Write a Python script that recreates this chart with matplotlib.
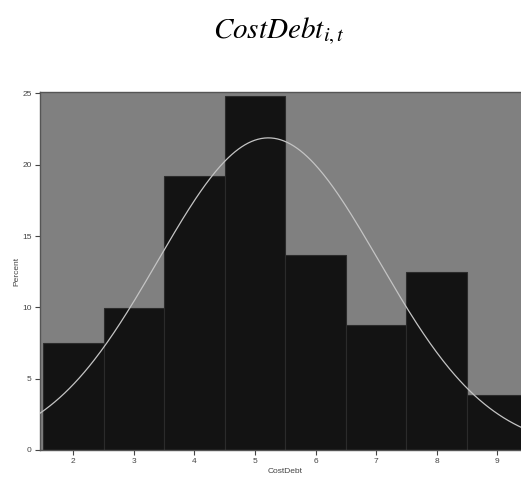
#! /usr/bin/env python
# -*- coding: utf-8 -*-

import numpy as np
import matplotlib
matplotlib.use('Agg')
import matplotlib.pyplot as plt

# histogram of CostDebt (percent per bin, bins of width 1 centred on integers)
bin_centers = [2, 3, 4, 5, 6, 7, 8, 9]
percent = [7.5, 9.94, 19.2, 24.8, 13.64, 8.75, 12.45, 3.84]

# fitted normal curve
fit_mean = 5.22
fit_std = 1.823

xticks = [2, 3, 4, 5, 6, 7, 8, 9]
yticks = [0, 5, 10, 15, 20, 25]

plt.rcParams['mathtext.fontset'] = 'stix'
plt.rcParams['font.family'] = ['Liberation Sans', 'DejaVu Sans']

fig = plt.figure(figsize=(5.21, 4.8), dpi=100)
axe = fig.add_axes([40 / 521, 1 - 450 / 480, 490 / 521, 358 / 480])
axe.set_facecolor('#808080')

axe.bar(bin_centers, percent, width=1.0, color='#131313', edgecolor='#2b2b2b', lw=0.8, zorder=2)

xmin, xmax = 1.45, 9.54
xx = np.linspace(xmin, xmax, 300)
yy = 100.0 / (fit_std * np.sqrt(2 * np.pi)) * np.exp(-0.5 * ((xx - fit_mean) / fit_std) ** 2)
axe.plot(xx, yy, color='#c4c4c4', lw=0.9, zorder=3)

axe.set_xlim(xmin, xmax)
axe.set_ylim(0, 25.1)
axe.set_xticks(xticks)
axe.set_yticks(yticks)
axe.tick_params(labelsize=6, length=3.5, width=0.8, colors='#444444', pad=2.5)
for s in ['left', 'bottom', 'top']:
    axe.spines[s].set_color('#555555')
    axe.spines[s].set_linewidth(1.0)
axe.spines['right'].set_visible(False)

axe.set_xlabel('CostDebt', fontsize=6, color='#444444', labelpad=2)
axe.set_ylabel('Percent', fontsize=6, color='#444444', labelpad=1)

fig.text(0.536, 1 - 38 / 480, r'$\mathit{CostDebt}_{i,t}$', fontsize=21, ha='center', va='baseline')

plt.savefig('out.png', dpi=100)
